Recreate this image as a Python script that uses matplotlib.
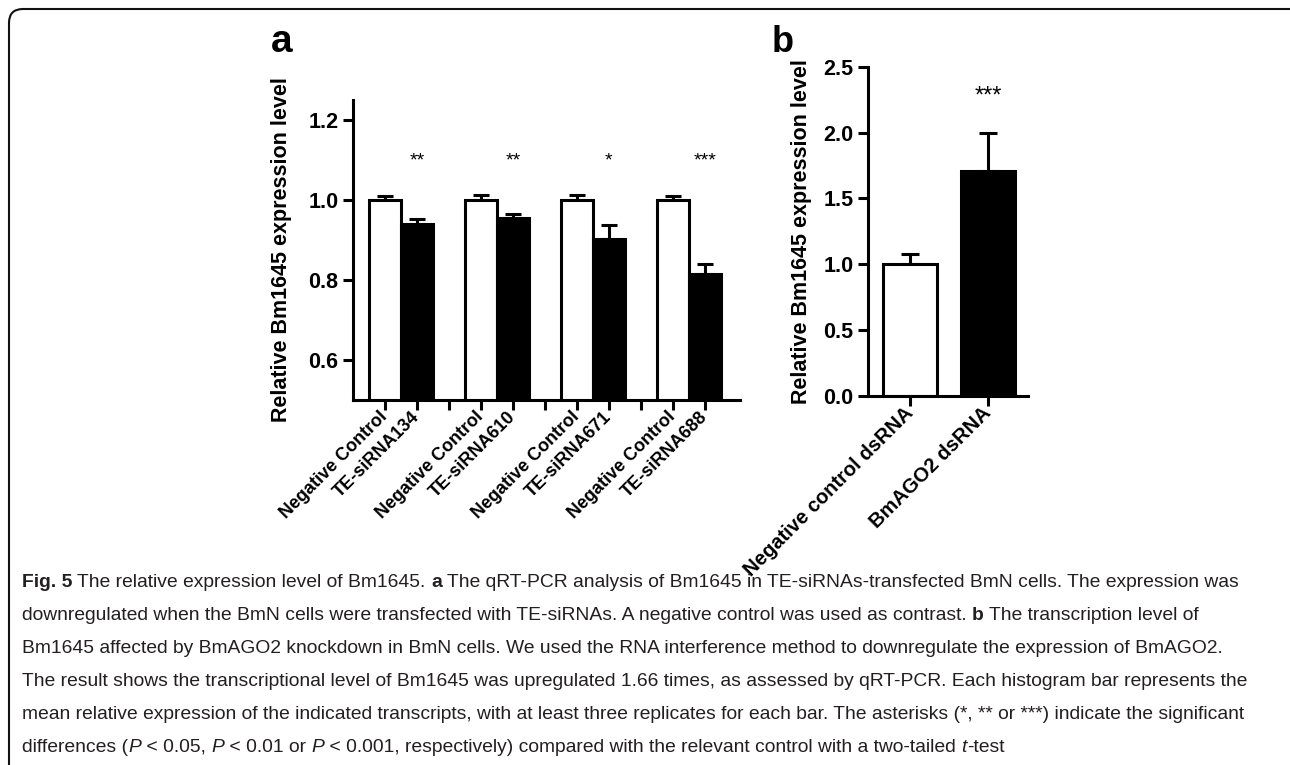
import matplotlib
matplotlib.use('Agg')
import matplotlib.pyplot as plt
from matplotlib.patches import FancyBboxPatch
from matplotlib.transforms import IdentityTransform
import numpy as np

plt.rcParams['font.family'] = ['Liberation Sans', 'DejaVu Sans']

# ---------------- data ----------------
# a: TE-siRNA knockdown
a_labels = ['Negative Control', 'TE-siRNA134', 'Negative Control', 'TE-siRNA610',
            'Negative Control', 'TE-siRNA671', 'Negative Control', 'TE-siRNA688']
a_means = [1.0, 0.940, 1.0, 0.956, 1.0, 0.902, 1.0, 0.816]
a_err = [0.009, 0.012, 0.013, 0.009, 0.013, 0.035, 0.011, 0.024]
a_stars = ['**', '**', '*', '***']

# b: BmAGO2 dsRNA
b_labels = ['Negative control dsRNA', 'BmAGO2 dsRNA']
b_means = [1.0, 1.71]
b_err = [0.08, 0.29]
b_stars = '***'

ylabel = 'Relative Bm1645 expression level'

# caption lines: (text, weight, style)
caption = [
    [('Fig. 5', 'bold', 'normal'), (' The relative expression level of Bm1645. ', 'normal', 'normal'),
     ('a', 'bold', 'normal'),
     (' The qRT-PCR analysis of Bm1645 in TE-siRNAs-transfected BmN cells. The expression was', 'normal', 'normal')],
    [('downregulated when the BmN cells were transfected with TE-siRNAs. A negative control was used as contrast. ', 'normal', 'normal'),
     ('b', 'bold', 'normal'), (' The transcription level of', 'normal', 'normal')],
    [('Bm1645 affected by BmAGO2 knockdown in BmN cells. We used the RNA interference method to downregulate the expression of BmAGO2.', 'normal', 'normal')],
    [('The result shows the transcriptional level of Bm1645 was upregulated 1.66 times, as assessed by qRT-PCR. Each histogram bar represents the', 'normal', 'normal')],
    [('mean relative expression of the indicated transcripts, with at least three replicates for each bar. The asterisks (*, ** or ***) indicate the significant', 'normal', 'normal')],
    [('differences (', 'normal', 'normal'), ('P', 'normal', 'italic'), (' < 0.05, ', 'normal', 'normal'),
     ('P', 'normal', 'italic'), (' < 0.01 or ', 'normal', 'normal'), ('P', 'normal', 'italic'),
     (' < 0.001, respectively) compared with the relevant control with a two-tailed ', 'normal', 'normal'),
     ('t', 'normal', 'italic'), ('-test', 'normal', 'normal')],
]
# right end of each caption line in the reference (px), last line is free
cap_right = [1237, 1222, 1247, 1250, 1250, None]

W, H = 1290, 765
fig = plt.figure(figsize=(W / 100, H / 100), dpi=100)

LW = 2.2


def style_axes(ax):
    for s in ['top', 'right']:
        ax.spines[s].set_visible(False)
    for s in ['left', 'bottom']:
        ax.spines[s].set_linewidth(LW)
    ax.tick_params(direction='out', length=7, width=LW)
    ax.tick_params(axis='y', labelsize=15.5)
    for t in ax.get_yticklabels():
        t.set_fontweight('bold')


###################################################################
# a
ax1 = fig.add_axes([353 / W, 1 - 400 / H, 387 / W, 300 / H])
pos_a = [3 * (k // 2) + k % 2 for k in range(len(a_means))]
cols_a = ['white' if k % 2 == 0 else 'black' for k in range(len(a_means))]
ax1.errorbar(pos_a, a_means, yerr=[np.zeros(len(a_err)), a_err], fmt='none',
             ecolor='black', elinewidth=LW, capsize=5.5, capthick=LW, zorder=1)
ax1.bar(pos_a, a_means, width=1.0, color=cols_a, edgecolor='black', linewidth=LW, zorder=2)
for i, s in enumerate(a_stars):
    ax1.text(pos_a[2 * i + 1], 1.086, s, ha='center', va='baseline', fontsize=14)
ax1.set_xlim(-1.0, 11.1)
ax1.set_ylim(0.5, 1.25)
ax1.set_yticks([0.6, 0.8, 1.0, 1.2])
ax1.set_yticklabels(['%.1f' % v for v in [0.6, 0.8, 1.0, 1.2]])
ticks_a = list(range(11))
tick_lab_a = ['' if t % 3 == 2 else a_labels[2 * (t // 3) + t % 3] for t in ticks_a]
ax1.set_xticks(ticks_a)
ax1.set_xticklabels(tick_lab_a, rotation=45, ha='right', va='center',
                    rotation_mode='anchor', fontsize=13, fontweight='bold')
style_axes(ax1)
ax1.set_ylabel(ylabel, fontsize=15.5, fontweight='bold')
ax1.yaxis.set_label_coords(-0.158, 0.5)
fig.text(282 / W, 1 - 42 / H, 'a', fontsize=28, fontweight='bold', ha='center', va='center')

###################################################################
# b
ax2 = fig.add_axes([868 / W, 1 - 396 / H, 160 / W, 329.3 / H])
pos_b = np.arange(len(b_means))
ax2.errorbar(pos_b, b_means, yerr=[np.zeros(len(b_err)), b_err], fmt='none',
             ecolor='black', elinewidth=LW, capsize=6.5, capthick=LW, zorder=1)
ax2.bar(pos_b, b_means, width=0.69, color=['white', 'black'], edgecolor='black',
        linewidth=LW, zorder=2)
ax2.text(pos_b[1], 2.23, b_stars, ha='center', va='baseline', fontsize=17)
ax2.set_xlim(-0.54, 1.51)
ax2.set_ylim(0, 2.5)
ax2.set_yticks(np.arange(0, 2.51, 0.5))
ax2.set_yticklabels(['%.1f' % v for v in np.arange(0, 2.51, 0.5)])
ax2.set_xticks(pos_b)
ax2.set_xticklabels(b_labels, rotation=45, ha='right', va='center',
                    rotation_mode='anchor', fontsize=14.5, fontweight='bold')
style_axes(ax2)
ax2.set_ylabel(ylabel, fontsize=15.5, fontweight='bold')
ax2.yaxis.set_label_coords(-0.35, 0.5)
fig.text(783 / W, 1 - 42 / H, 'b', fontsize=26, fontweight='bold', ha='center', va='center')

###################################################################
# frame
frame = FancyBboxPatch((9, -60), 1300, H - 9 + 60, boxstyle='round,pad=0,rounding_size=14',
                       transform=IdentityTransform(), facecolor='none', edgecolor='#111111',
                       linewidth=1.5, figure=fig)
fig.patches.append(frame)

###################################################################
# caption
cap_font = ['Liberation Sans Narrow', 'Liberation Sans', 'DejaVu Sans']
renderer = fig.canvas.get_renderer()


def line_width(runs, size):
    w = 0
    for txt, wt, st in runs:
        t = fig.text(0, 0, txt, fontsize=size, fontweight=wt, fontstyle=st,
                     family=cap_font, transform=IdentityTransform())
        w += t.get_window_extent(renderer).width
        t.remove()
    return w


# one size for all lines: the largest that keeps every line inside its reference width
size = min(10 * (r - 22) / line_width(runs, 10) for runs, r in zip(caption, cap_right) if r)

for i, runs in enumerate(caption):
    x = 22
    y = H - (587 + 33 * i)
    for txt, wt, st in runs:
        t = fig.text(x, y, txt, fontsize=size, fontweight=wt, fontstyle=st, family=cap_font,
                     color='#231f20', va='baseline', transform=IdentityTransform())
        x = t.get_window_extent(renderer).x1

fig.savefig('out.png', dpi=100)
